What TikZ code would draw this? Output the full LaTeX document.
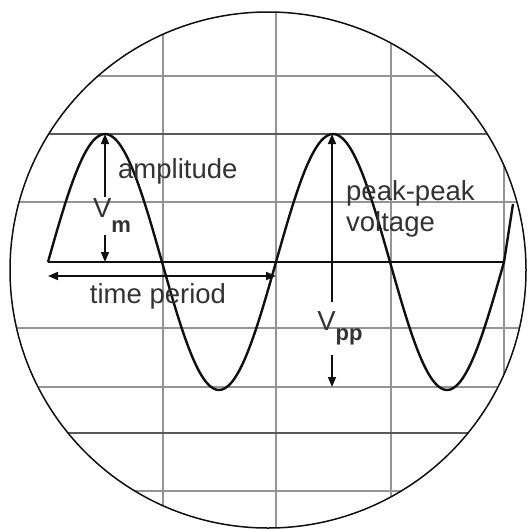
\documentclass[tikz,border=0pt]{standalone}
\usepackage{fontspec}
\setmainfont{Liberation Sans}
\usetikzlibrary{arrows.meta}
\definecolor{ScopeTrace}{HTML}{101010}
\definecolor{ScopeGrid}{HTML}{959595}
\definecolor{ScopeGridDark}{HTML}{5A5A5A}
\definecolor{ScopeText}{HTML}{333333}
\newcommand\scopesub{\fontsize{22}{22}\selectfont\bfseries}

\begin{document}
\begin{tikzpicture}[x=1pt,y=-1pt,
    trace/.style={ScopeTrace,line width=2.4pt,line join=round},
    gridline/.style={ScopeGrid,line width=1.4pt},
    arr/.style={ScopeTrace,line width=1.6pt,-{Triangle[length=10pt,width=8pt]}},
    darr/.style={ScopeTrace,line width=1.8pt,{Triangle[length=10pt,width=8pt]}-{Triangle[length=10pt,width=8pt]}},
    lbl/.style={text=ScopeText,font=\fontsize{27.5}{31}\selectfont,inner sep=0pt}]
      \useasboundingbox (0,0) rectangle (528,530);
      % screen grid, cut to the round tube face
      \begin{scope}
        \clip (268,270) circle (258);
        \foreach \x in {163,276,391,504} \draw[gridline] (\x,0) -- (\x,530);
        \foreach \y in {76,202,328,387,491} \draw[gridline] (0,\y) -- (528,\y);
        \foreach \y in {134,433} \draw[gridline,ScopeGridDark] (0,\y) -- (528,\y);
      \end{scope}
      \draw[ScopeTrace,line width=1.5pt] (268,270) circle (258);
      \draw[ScopeTrace,line width=2.6pt] (48,262) -- (505,262);
      \draw[trace] plot[domain=0:720,samples=145,smooth] ({48+\x/360*228},{262-128*sin(\x)}) -- (513,204);
      % amplitude
      \coordinate (vmtop) at (105,134);
      \coordinate (vmbot) at (105,262);
      \node[lbl,minimum height=38pt] (vm) at (112,216) {V\raisebox{-15pt}{\scopesub m}};
      \draw[arr] (vmtop |- vm.north) -- (vmtop);
      \draw[arr] (vmtop |- vm.south) -- (vmbot);
      \node[lbl,anchor=base west] (amp) at (118,178) {amplitude};
      % period
      \coordinate (tpl) at (48,276);
      \coordinate (tpr) at (276,276);
      \draw[darr] (tpl) -- (tpr);
      \node[lbl,anchor=base] (tp) at (158,303) {time period};
      % peak to peak
      \coordinate (vpptop) at (332,134);
      \coordinate (vppbot) at (332,387);
      \node[lbl,minimum height=53pt] (vpp) at (340,328.5) {V\raisebox{-10pt}{\scopesub pp}};
      \draw[arr] (vpptop |- vpp.north) -- (vpptop);
      \draw[arr] (vpptop |- vpp.south) -- (vppbot);
      \node[lbl,anchor=north west,align=left] (ppv) at (346,180) {peak-peak\\voltage};
    \end{tikzpicture}
\end{document}
